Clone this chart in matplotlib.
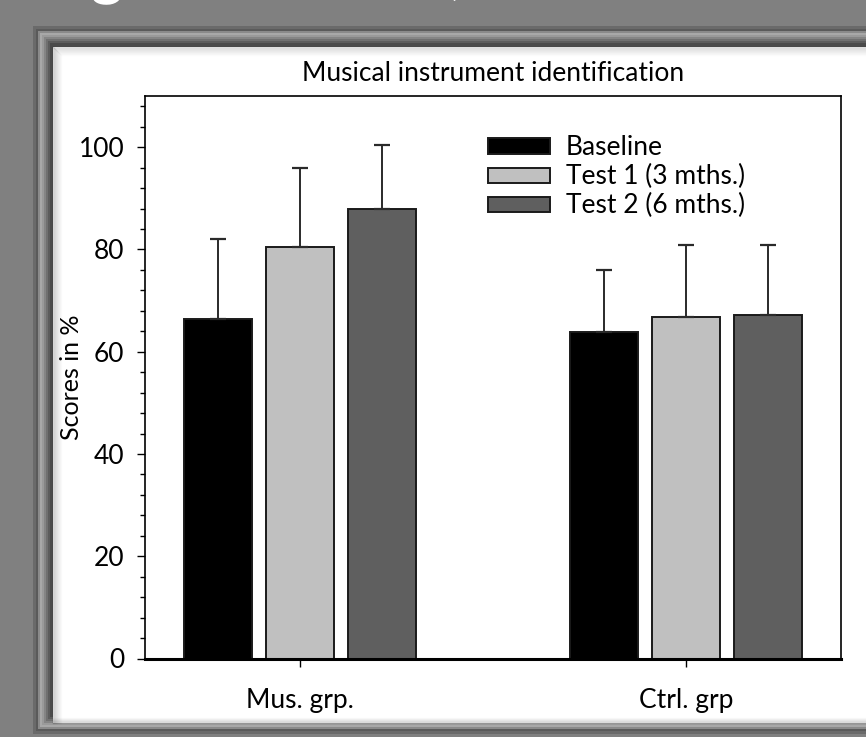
import matplotlib
matplotlib.use("Agg")
import matplotlib.pyplot as plt
from matplotlib.patches import Rectangle
import numpy as np

# data
groups = ["Mus. grp.", "Ctrl. grp"]
series = ["Baseline", "Test 1 (3 mths.)", "Test 2 (6 mths.)"]
baseline = [66.3, 63.9]
test1 = [80.5, 66.8]
test2 = [88.0, 67.2]
baseline_err = [15.7, 12.0]
test1_err = [15.4, 14.1]
test2_err = [12.5, 13.6]

colors = ["#000000", "#c0c0c0", "#5f5f5f"]

FONT = ["Lato", "DejaVu Sans"]
plt.rcParams["font.family"] = FONT

W, H = 866, 737
fig = plt.figure(figsize=(W / 100, H / 100), dpi=100)
fig.patch.set_facecolor("#808080")

# background / bevelled frame drawn in pixel coordinates
bg = fig.add_axes([0, 0, 1, 1])
bg.set_xlim(0, W)
bg.set_ylim(H, 0)
bg.axis("off")


def rect(x0, y0, x1, y1, **kw):
    bg.add_patch(Rectangle((x0, y0), x1 - x0, y1 - y0, **kw))


# drop shadow of the frame
rect(33, 26, W + 5, 734, facecolor="#6a6a6a", edgecolor="none")
# frame body with bevel
shades = ["#5a5a5a", "#8a8a8a", "#a8a8a8", "#9a9a9a", "#858585", "#707070", "#5c5c5c", "#4a4a4a"]
for i, c in enumerate(shades):
    off = i * 2
    rect(36 + off, 29 + off, W + 5, 731 - off, facecolor=c, edgecolor="none")
# white panel with soft inner shadow
rect(53, 47, W + 5, 723, facecolor="#ffffff", edgecolor="none")
for i, a in enumerate(np.linspace(0.35, 0.0, 10)):
    bg.plot([53 + i, 53 + i], [47 + i, 723], color="black", alpha=a * 0.4, lw=1)
    bg.plot([53 + i, W], [47 + i, 47 + i], color="black", alpha=a * 0.3, lw=1)
for i, a in enumerate(np.linspace(0.3, 0.0, 6)):
    bg.plot([53, W], [722 - i, 722 - i], color="black", alpha=a * 0.4, lw=1)

# clipped slide title above the frame (only its bottom edge shows)
fig.text(91 / W, 1 + 8 / H, "g", color="white", fontsize=44, fontweight="bold",
         ha="left", va="baseline")
fig.text(442 / W, 1 + 8 / H, "(", color="white", fontsize=44,
         ha="left", va="baseline")

# main axes: left 145, right 841, top 96, bottom 658 (pixels)
ax = fig.add_axes([145 / W, 1 - 658.5 / H, (841 - 145) / W, (658.5 - 96) / H])
ax.set_facecolor("white")

x = np.arange(len(groups))
width = 0.176
step = 0.212
vals = [baseline, test1, test2]
errs = [baseline_err, test1_err, test2_err]
for k, (v, e) in enumerate(zip(vals, errs)):
    pos = x + (k - 1) * step
    ax.bar(pos, v, width, color=colors[k], edgecolor="#1a1a1a", linewidth=1.4,
           label=series[k], zorder=2)
    ax.errorbar(pos, v, yerr=[np.zeros(len(e)), e], fmt="none", ecolor="#2a2a2a",
                elinewidth=1.4, capsize=6, capthick=1.6, zorder=3)

ax.set_xlim(-0.4, 1.4)
ax.set_ylim(0, 110)
ax.set_yticks(np.arange(0, 101, 20))
ax.set_yticks(np.arange(0, 111, 4), minor=True)
ax.set_xticks(x)
ax.set_xticklabels(groups)
ax.tick_params(axis="y", which="major", length=6, width=1, labelsize=19, pad=9)
ax.tick_params(axis="y", which="minor", length=3.5, width=1)
ax.tick_params(axis="x", length=6, width=1, labelsize=19, pad=15)
ax.set_ylabel("Scores in %", fontsize=18)
ax.yaxis.set_label_coords(-0.089, 0.5)
ax.set_title("Musical instrument identification", fontsize=19, pad=11)
for s in ["left", "top", "right"]:
    ax.spines[s].set_linewidth(1.2)
ax.spines["bottom"].set_linewidth(2.2)

handles, labels = ax.get_legend_handles_labels()
leg = ax.legend(handles, labels, loc="upper left", bbox_to_anchor=(0.493, 0.93),
                frameon=False, fontsize=19, handlelength=2.35, handleheight=0.5,
                labelspacing=0.15, handletextpad=0.6, borderaxespad=0, borderpad=0)

fig.savefig("out.png", dpi=100, facecolor=fig.get_facecolor())
